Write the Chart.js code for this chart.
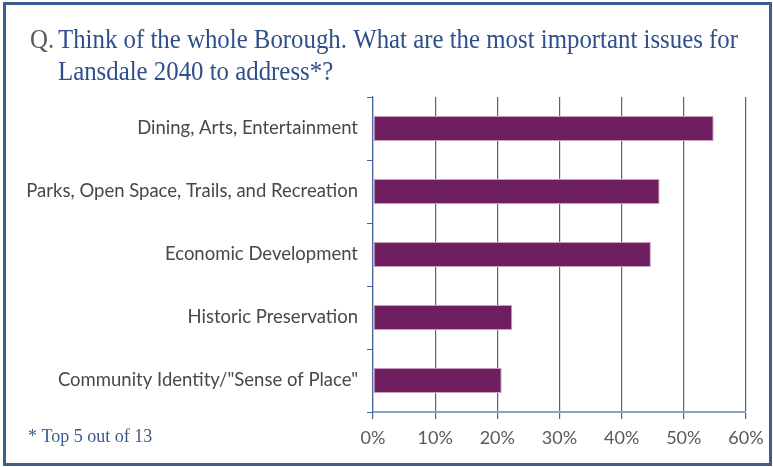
<!DOCTYPE html>
<html>
<head>
<meta charset="utf-8">
<script src="https://cdn.jsdelivr.net/npm/chart.js@4"></script>
<style>
  html, body { margin: 0; padding: 0; background: #fff; }
  #issues { display: block; }
</style>
</head>
<body>
<canvas id="issues" width="773" height="467"></canvas>
<script>
// survey answers, top 5 of 13
const issues = [
  'Dining, Arts, Entertainment',
  'Parks, Open Space, Trails, and Recreation',
  'Economic Development',
  'Historic Preservation',
  'Community Identity/"Sense of Place"'
]
const shares = [54.8, 46.1, 44.7, 22.4, 20.7]
const pctTicks = [0, 10, 20, 30, 40, 50, 60]

const titleLines = [
  ['Q.', 'Think of the whole Borough. What are the most important issues for'],
  ['', 'Lansdale 2040 to address*?']
]
const footnote = '* Top 5 out of 13'

const navy = '#3d5f8e'
const gridBlue = '#46679a'

// frame, question text and footnote
const frameAndText = {
  id: 'frameAndText',
  beforeDraw(chart) {
    const ctx = chart.ctx
    ctx.save()
    ctx.fillStyle = '#fff'
    ctx.fillRect(0, 0, chart.width, chart.height)
    ctx.restore()
  },
  afterDraw(chart) {
    const ctx = chart.ctx
    ctx.save()
    ctx.strokeStyle = navy
    ctx.lineWidth = 3
    ctx.strokeRect(4.5, 3.5, chart.width - 7, chart.height - 6)

    ctx.font = '27px "Liberation Serif", "DejaVu Serif", serif'
    ctx.textBaseline = 'alphabetic'
    // question text sits at x=58 and runs to about x=738, "Q." hangs left of it
    const squeeze = Math.min(1, 680 / ctx.measureText(titleLines[0][1]).width)
    let y = 48
    titleLines.forEach(function (line) {
      ctx.save()
      ctx.translate(30, y)
      ctx.scale(squeeze, 1)
      ctx.fillStyle = '#5a5a5a'
      ctx.fillText(line[0], 0, 0)
      ctx.fillStyle = '#2e4f8c'
      ctx.fillText(line[1], 28 / squeeze, 0)
      ctx.restore()
      y += 32
    })

    ctx.font = '18px "Liberation Serif", serif'
    ctx.fillStyle = '#3b5a8c'
    ctx.fillText(footnote, 28, 442)
    ctx.restore()
  }
}

new Chart(document.getElementById('issues'), {
  type: 'bar',
  data: {
    labels: issues,
    datasets: [{
      data: shares,
      backgroundColor: '#6f1f5f',
      borderColor: '#c9a2c2',
      borderWidth: 1,
      borderSkipped: false,
      categoryPercentage: 1,
      barPercentage: 0.4
    }]
  },
  options: {
    indexAxis: 'y',
    responsive: false,
    animation: false,
    layout: { padding: { top: 97, right: 27, bottom: 10, left: 0 } },
    plugins: {
      legend: { display: false },
      tooltip: { enabled: false }
    },
    scales: {
      x: {
        min: 0,
        max: 60,
        afterFit(scale) { scale.height = 45 },
        afterBuildTicks(scale) { scale.ticks = pctTicks.map(v => ({ value: v })) },
        ticks: {
          callback: v => v + '%',
          color: '#595959',
          font: { family: 'Lato, "Liberation Sans", sans-serif', size: 18 },
          padding: 8
        },
        grid: { color: gridBlue, lineWidth: 1.2, tickLength: 7 },
        border: { color: '#8ea3c2', width: 2 }
      },
      y: {
        afterFit(scale) { scale.width = 373 },
        ticks: {
          color: '#484848',
          font: { family: 'Lato, "Liberation Sans", sans-serif', size: 18.5 },
          padding: 9
        },
        grid: { drawOnChartArea: false, color: gridBlue, tickLength: 6 },
        border: { color: gridBlue, width: 1.2 }
      }
    }
  },
  plugins: [frameAndText]
})
</script>
</body>
</html>
